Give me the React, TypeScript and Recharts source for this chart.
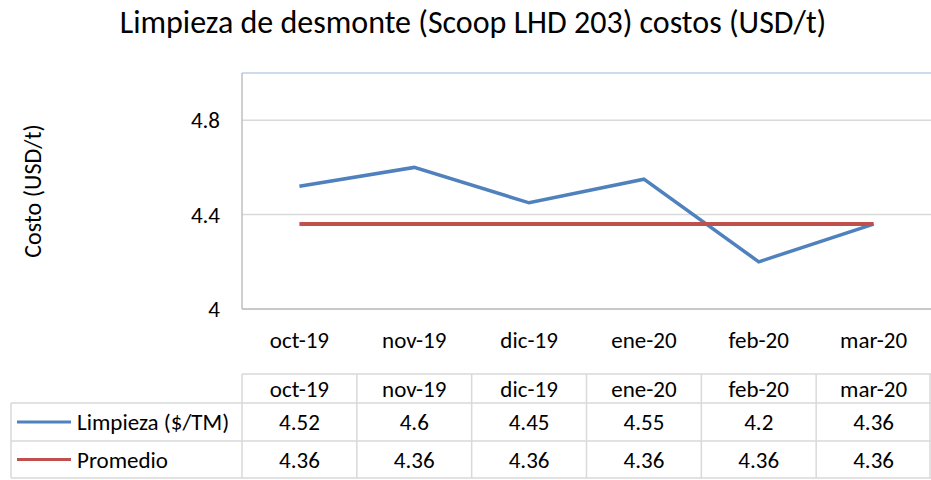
import React from 'react';
import { LineChart, Line, XAxis, YAxis, CartesianGrid, ReferenceLine } from 'recharts';

const categories = ['oct-19', 'nov-19', 'dic-19', 'ene-20', 'feb-20', 'mar-20'];
const limpieza = [4.52, 4.6, 4.45, 4.55, 4.2, 4.36];
const promedio = [4.36, 4.36, 4.36, 4.36, 4.36, 4.36];
const yTicks = [4, 4.4, 4.8];
const seriesNames = ['Limpieza ($/TM)', 'Promedio'];
const title = 'Limpieza de desmonte (Scoop LHD 203) costos (USD/t)';
const yLabel = 'Costo (USD/t)';

const data = categories.map((c, i) => ({ month: c, limpieza: limpieza[i], promedio: promedio[i] }));

const FONT = "Carlito, 'Liberation Sans Narrow', 'Liberation Sans', sans-serif";
const W = 931;
const H = 480;
const PLOT_LEFT = 242;
const PLOT_RIGHT = 931;
const BLUE = '#4f81bd';
const RED = '#c0504d';
const GRID = '#d9d9d9';
const FS = 23;

export default function App() {
  const colW = (PLOT_RIGHT - PLOT_LEFT) / categories.length;
  const rowsY = [374, 403, 441, 478];
  const seriesValues = [limpieza, promedio];
  const seriesColors = [BLUE, RED];
  return (
    <div style={{ position: 'absolute', left: 0, top: 0, width: W, height: H, background: '#fff' }}>
      <LineChart width={W} height={H} data={data} margin={{ top: 73, right: 0, bottom: 141, left: 0 }}>
        <CartesianGrid vertical={false} stroke={GRID} strokeWidth={1.5} />
        <ReferenceLine y={5} stroke="#c5d9f1" strokeWidth={1.5} />
        <XAxis
          dataKey="month"
          height={30}
          padding={{ left: colW / 2, right: colW / 2 }}
          tickLine={false}
          axisLine={{ stroke: '#bfbfbf', strokeWidth: 1.5 }}
          tickSize={0}
          tickMargin={23}
          tick={{ fill: '#000', fontSize: FS, fontFamily: FONT }}
        />
        <YAxis
          width={PLOT_LEFT}
          domain={[4, 5]}
          ticks={yTicks}
          tickLine={false}
          axisLine={{ stroke: '#bfbfbf', strokeWidth: 1.5 }}
          tickSize={0}
          tickMargin={22}
          tick={{ fill: '#000', fontSize: FS, fontFamily: FONT }}
        />
        <Line type="linear" dataKey="limpieza" stroke={BLUE} strokeWidth={3.5} dot={false} isAnimationActive={false} />
        <Line type="linear" dataKey="promedio" stroke={RED} strokeWidth={4} dot={false} isAnimationActive={false} />
      </LineChart>
      <svg width={W} height={H} style={{ position: 'absolute', left: 0, top: 0, pointerEvents: 'none' }}>
        <text x={473} y={33} textAnchor="middle" fontSize={32} fontFamily={FONT} fill="#000">{title}</text>
        <text
          x={0}
          y={0}
          dy="0.35em"
          transform="translate(33,191) rotate(-90)"
          textAnchor="middle"
          fontSize={24}
          fontFamily={FONT}
          fill="#000"
        >
          {yLabel}
        </text>
        <line x1={PLOT_LEFT} x2={PLOT_RIGHT} y1={rowsY[0]} y2={rowsY[0]} stroke={GRID} strokeWidth={1.5} />
        {rowsY.slice(1).map((y) => (
          <line key={y} x1={11} x2={PLOT_RIGHT} y1={y} y2={y} stroke={GRID} strokeWidth={1.5} />
        ))}
        <line x1={11} x2={11} y1={rowsY[1]} y2={rowsY[3]} stroke={GRID} strokeWidth={1.5} />
        {categories.map((_, i) => (
          <line
            key={i}
            x1={PLOT_LEFT + i * colW}
            x2={PLOT_LEFT + i * colW}
            y1={rowsY[0]}
            y2={rowsY[3]}
            stroke={GRID}
            strokeWidth={1.5}
          />
        ))}
        <line x1={930} x2={930} y1={rowsY[0]} y2={rowsY[3]} stroke={GRID} strokeWidth={1.5} />
        {categories.map((c, i) => (
          <text
            key={c}
            x={PLOT_LEFT + (i + 0.5) * colW}
            y={(rowsY[0] + rowsY[1]) / 2}
            dy="0.35em"
            textAnchor="middle"
            fontSize={FS}
            fontFamily={FONT}
            fill="#000"
          >
            {c}
          </text>
        ))}
        {seriesNames.map((name, r) => {
          const cy = (rowsY[r + 1] + rowsY[r + 2]) / 2;
          return (
            <g key={name}>
              <line x1={17} x2={71} y1={cy} y2={cy} stroke={seriesColors[r]} strokeWidth={3} />
              <text x={77} y={cy} dy="0.35em" fontSize={FS} fontFamily={FONT} fill="#000">{name}</text>
              {seriesValues[r].map((v, i) => (
                <text
                  key={i}
                  x={PLOT_LEFT + (i + 0.5) * colW}
                  y={cy}
                  dy="0.35em"
                  textAnchor="middle"
                  fontSize={FS}
                  fontFamily={FONT}
                  fill="#000"
                >
                  {v}
                </text>
              ))}
            </g>
          );
        })}
      </svg>
    </div>
  );
}
